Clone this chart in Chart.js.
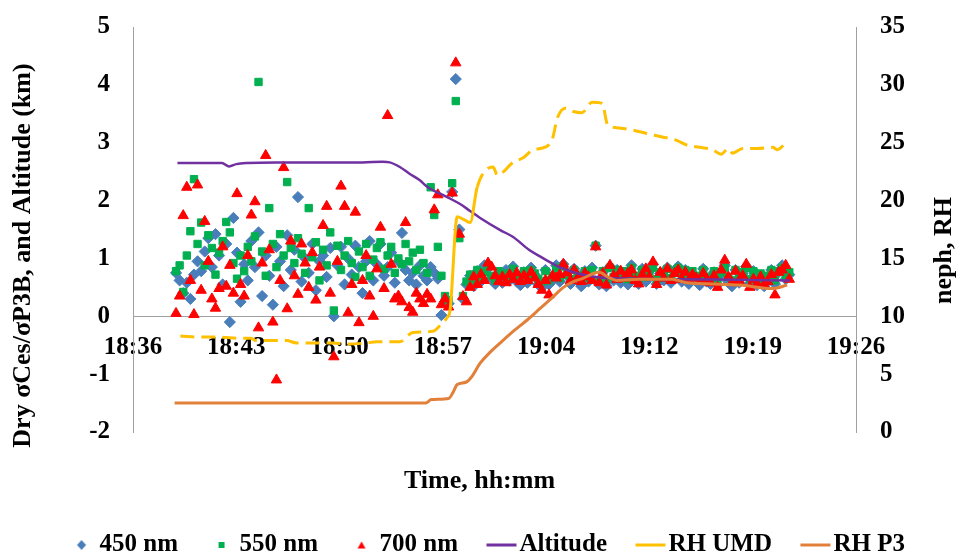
<!DOCTYPE html>
<html>
<head>
<meta charset="utf-8">
<script src="https://cdn.jsdelivr.net/npm/chart.js"></script>
<style>
  html, body { margin: 0; padding: 0; background: #ffffff; }
  #wrap { width: 959px; height: 559px; }
</style>
</head>
<body>
<div id="wrap"><canvas id="c" width="959" height="559"></canvas></div>
<script>
// Time axis: minutes after 18:36; major unit 0.005 day = 7.2 min
const xTickLabels = ['18:36', '18:43', '18:50', '18:57', '19:04', '19:12', '19:19', '19:26'];
const xTickStep = 7.2;

// Nephelometer ratio samples, 15 s apart starting 18:39:00
const sampleMinutes = Array.from({ length: 172 }, (_, i) => 3 + i * 0.25);

const ratio450 = [
  0.75, 0.62, 0.40, 0.58, 0.30, 0.72, 0.95, 0.78, 1.12, 1.35,
  0.85, 1.42, 1.05, 0.55, 1.25, -0.10, 1.70, 1.10, 0.25, 0.90,
  0.62, 1.30, 0.85, 1.45, 0.35, 1.05, 0.70, 0.20, 1.20, 0.95,
  0.52, 1.40, 0.80, 1.15, 2.06, 0.60, 1.00, 0.75, 1.25, 0.45,
  0.95, 1.05, 0.68, 1.18, 0.00, 0.88, 1.20, 0.55, 1.00, 0.72,
  1.22, 0.85, 0.40, 0.95, 1.30, 0.62, 0.90, 1.25, 0.70, 0.85,
  1.10, 0.58, 0.95, 1.44, 0.80, 0.62, 0.75, 0.55, 0.88, 0.70,
  0.62, 0.85, 0.75, 0.65, 0.02, 0.25, 0.22, 2.15, 4.10, 1.50,
  0.30, 0.55, 0.70, 0.52, 0.78, 0.60, 0.88, 0.83, 0.66, 0.56,
  0.74, 0.58, 0.80, 0.62, 0.86, 0.60, 0.54, 0.76, 0.58, 0.84,
  0.72, 0.55, 0.50, 0.80, 0.55, 0.62, 0.88, 0.60, 0.90, 0.70,
  0.56, 0.82, 0.64, 0.52, 0.78, 0.60, 0.84, 1.22, 0.55, 0.76,
  0.52, 0.86, 0.62, 0.80, 0.58, 0.74, 0.55, 0.88, 0.64, 0.56,
  0.82, 0.60, 0.78, 0.90, 0.56, 0.74, 0.62, 0.84, 0.58, 0.76,
  0.86, 0.60, 0.80, 0.56, 0.74, 0.62, 0.54, 0.82, 0.60, 0.56,
  0.76, 0.54, 0.72, 0.88, 0.60, 0.52, 0.80, 0.58, 0.74, 0.86,
  0.56, 0.78, 0.54, 0.70, 0.52, 0.66, 0.80, 0.56, 0.76, 0.88,
  0.64, 0.72
];

const ratio550 = [
  0.78, 0.88, 0.42, 1.05, 1.47, 2.37, 1.25, 1.62, 0.88, 1.40,
  1.18, 0.72, 1.10, 1.30, 1.63, 1.45, 0.92, 0.65, 1.05, 0.78,
  1.20, 0.95, 1.38, 4.05, 1.12, 0.70, 1.87, 1.25, 0.85, 1.42,
  1.05, 2.32, 1.18, 0.92, 1.35, 1.08, 0.75, 1.87, 1.02, 1.28,
  0.62, 1.15, 0.88, 1.45, 0.10, 1.22, 0.80, 1.05, 1.30, 0.92,
  0.68, 1.12, 0.85, 1.25, 0.70, 0.98, 1.18, 1.28, 0.82, 1.05,
  1.20, 0.75, 1.00, 0.90, 1.25, 0.95, 1.10, 0.80, 1.15, 0.92,
  0.75, 2.23, 1.75, 1.20, 0.70, 0.35, 0.28, 2.30, 3.72, 1.35,
  0.35, 0.60, 0.72, 0.62, 0.80, 0.66, 0.76, 0.88, 0.70, 0.62,
  0.78, 0.64, 0.74, 0.68, 0.82, 0.66, 0.62, 0.78, 0.64, 0.80,
  0.74, 0.64, 0.60, 0.78, 0.62, 0.70, 0.84, 0.66, 0.86, 0.72,
  0.64, 0.80, 0.70, 0.62, 0.78, 0.66, 0.80, 1.22, 0.62, 0.78,
  0.62, 0.84, 0.68, 0.80, 0.66, 0.78, 0.64, 0.84, 0.70, 0.64,
  0.80, 0.68, 0.78, 0.84, 0.64, 0.76, 0.68, 0.82, 0.66, 0.78,
  0.84, 0.68, 0.80, 0.66, 0.78, 0.70, 0.64, 0.80, 0.68, 0.64,
  0.78, 0.62, 0.76, 0.84, 0.68, 0.62, 0.80, 0.66, 0.76, 0.84,
  0.64, 0.78, 0.62, 0.74, 0.60, 0.70, 0.80, 0.62, 0.78, 0.84,
  0.70, 0.76
];

const ratio700 = [
  0.05, 0.35, 1.74, 2.23, 0.62, 0.03, 2.27, 0.45, 1.64, 0.95,
  0.30, 0.14, 0.48, 1.20, 0.52, 0.88, 0.40, 2.12, 0.55, 0.35,
  1.05, 1.75, 1.98, -0.20, 0.92, 2.78, 1.15, -0.10, -1.10, 0.62,
  2.57, 0.13, 1.30, 0.70, 0.38, 1.25, 0.92, 0.50, 1.10, 0.28,
  0.85, 1.57, 1.90, 0.40, -0.70, 0.95, 2.25, 1.90, 0.06, 0.55,
  1.80, -0.11, 0.62, 1.05, 0.35, 0.00, 0.82, 1.54, 0.48, 3.47,
  0.90, 0.30, 0.35, 0.25, 1.62, 0.15, 0.07, 0.40, 0.30, 0.22,
  0.38, 0.30, 1.84, 2.10, 0.20, 0.30, 0.16, 2.13, 4.38, 1.42,
  0.34, 0.25, 0.50, 0.68, 0.55, 0.72, 0.62, 0.92, 0.85, 0.70,
  0.60, 0.68, 0.58, 0.72, 0.64, 0.75, 0.60, 0.70, 0.62, 0.76,
  0.66, 0.55, 0.45, 0.62, 0.37, 0.70, 0.66, 0.72, 0.90, 0.75,
  0.62, 0.80, 0.66, 0.60, 0.74, 0.68, 0.62, 1.20, 0.58, 0.74,
  0.54, 0.88, 0.70, 0.64, 0.78, 0.66, 0.74, 0.80, 0.62, 0.56,
  0.72, 0.82, 0.68, 0.94, 0.55, 0.76, 0.66, 0.82, 0.62, 0.74,
  0.80, 0.64, 0.76, 0.62, 0.72, 0.66, 0.60, 0.74, 0.64, 0.58,
  0.70, 0.50, 0.80, 0.97, 0.68, 0.58, 0.78, 0.62, 0.70, 0.90,
  0.50, 0.64, 0.56, 0.68, 0.55, 0.60, 0.72, 0.37, 0.76, 0.80,
  0.88, 0.64
];

// Aircraft altitude, km (left axis)
const altMinutes = [3.1, 5.0, 6.2, 6.7, 7.2, 8.0, 10.0, 12.0, 14.0, 16.0, 17.4, 17.9, 18.6, 19.3, 20.0, 20.5,
  21.9, 22.8, 23.5, 24.2, 25.6, 26.5, 27.6, 28.4, 29.8, 31.0, 32.3, 33.3, 35.0, 38.0, 42.0, 45.8];
const altitudeKm = [2.65, 2.65, 2.65, 2.59, 2.63, 2.65, 2.66, 2.66, 2.66, 2.66, 2.67, 2.66, 2.58, 2.46, 2.35, 2.24,
  2.06, 1.94, 1.82, 1.70, 1.49, 1.37, 1.15, 1.03, 0.84, 0.74, 0.68, 0.66, 0.65, 0.64, 0.63, 0.62];

// Relative humidity, % (right axis)
const umdMinutes = [3.3, 4.7, 6.0, 7.5, 8.2, 8.6, 10.7, 11.4, 12.8, 13.9, 15.0, 16.3, 17.0, 18.6, 19.5, 20.9,
  21.4, 21.9, 22.1, 22.6, 23.0, 23.5, 24.0, 25.1, 25.4, 26.5, 27.2, 27.9, 28.4, 29.2, 29.6, 30.2, 30.7,
  31.3, 32.0, 32.7, 33.1, 33.7, 34.8, 35.8, 36.9, 37.9, 38.6, 39.5, 40.4, 41.0, 41.5, 41.8, 42.5, 43.5,
  44.6, 44.9, 45.6];
const rhUMD = [8.3, 8.2, 8.2, 8.1, 8.1, 7.9, 7.9, 7.7, 7.7, 7.7, 7.6, 7.7, 7.8, 7.8, 8.6, 8.7,
  9.2, 9.9, 10.5, 18.6, 18.4, 18.1, 21.2, 22.9, 22.2, 23.3, 23.7, 24.4, 24.5, 25.2, 27.2, 28.0, 27.7,
  27.6, 28.5, 28.4, 26.5, 26.3, 26.1, 25.8, 25.5, 25.2, 24.8, 24.6, 24.4, 24.0, 24.5, 24.1, 24.5, 24.5,
  24.6, 24.4, 25.1];

const p3Minutes = [2.9, 10.0, 16.0, 20.4, 20.8, 22.0, 22.3, 22.6, 23.2, 23.6, 24.2, 24.9, 25.6, 26.6, 27.5,
  28.4, 29.3, 30.0, 30.7, 31.4, 32.1, 32.5, 33.1, 33.7, 35.3, 37.6, 38.6, 40.4, 42.3, 44.6, 45.6];
const rhP3 = [2.5, 2.5, 2.5, 2.5, 2.8, 2.9, 3.4, 4.1, 4.3, 4.75, 5.95, 6.9, 7.7, 8.8, 9.7,
  10.7, 11.7, 12.5, 13.0, 13.3, 13.7, 13.8, 13.4, 13.1, 13.2, 13.2, 12.9, 12.8, 12.7, 12.4, 12.7];

const leftTitle = 'Dry \u03c3Ces/\u03c3P3B, and Altitude (km)';
const rightTitle = 'neph, RH';
const bottomTitle = 'Time, hh:mm';

const serif = '"Liberation Serif", "Times New Roman", serif';
Chart.defaults.font.family = serif;
Chart.defaults.font.weight = 'bold';
Chart.defaults.color = '#000000';

const toPoints = (xs, ys) => xs.map((x, i) => ({ x: x, y: ys[i] }));

// Small legend glyphs, offset inside the canvas so each sits just before its label
function legendGlyph(kind, color) {
  const c = document.createElement('canvas');
  const g = c.getContext('2d');
  if (kind === 'line') {
    c.width = 60; c.height = 4;
    g.strokeStyle = color; g.lineWidth = 3;
    g.beginPath(); g.moveTo(26, 2); g.lineTo(56, 2); g.stroke();
    return c;
  }
  c.width = 40; c.height = 12;
  g.fillStyle = color;
  g.beginPath();
  if (kind === 'diamond') {
    g.moveTo(31, 1); g.lineTo(35.5, 6); g.lineTo(31, 11); g.lineTo(26.5, 6);
  } else if (kind === 'square') {
    g.rect(28, 3, 6, 6);
  } else {
    g.moveTo(31, 2.5); g.lineTo(35, 9.5); g.lineTo(27, 9.5);
  }
  g.closePath(); g.fill();
  return c;
}

const colors = ['#4A7EBB', '#00B050', '#FF0000', '#7030A0', '#FFC000', '#E2803A'];
const legendGlyphs = [
  legendGlyph('diamond', colors[0]),
  legendGlyph('square', colors[1]),
  legendGlyph('triangle', colors[2]),
  legendGlyph('line', colors[3]),
  legendGlyph('line', colors[4]),
  legendGlyph('line', colors[5])
];

// Rotated titles for the two value axes
const axisTitles = {
  id: 'axisTitles',
  afterDraw(chart) {
    const { ctx, chartArea: a } = chart;
    const midY = (a.top + a.bottom) / 2;
    ctx.save();
    ctx.font = 'bold 26px ' + serif;
    ctx.fillStyle = '#000000';
    ctx.textAlign = 'center';
    ctx.textBaseline = 'middle';
    [[a.left - 110, midY + 26, leftTitle], [a.right + 88, midY + 21, rightTitle]].forEach(([x, y, t]) => {
      ctx.save();
      ctx.translate(x, y);
      ctx.rotate(-Math.PI / 2);
      ctx.fillText(t, 0, 0);
      ctx.restore();
    });
    ctx.restore();
  }
};

const axisGray = '#A0A0A0';
const tickFont = { size: 25, weight: 'bold', family: serif };

// Value axes keep a fixed width and do not push the plot area in from top or bottom
const fixWidth = w => s => { s.width = w; s.paddingTop = 0; s.paddingBottom = 0; };

new Chart(document.getElementById('c'), {
  type: 'scatter',
  data: {
    datasets: [
      { label: '450 nm', data: toPoints(sampleMinutes, ratio450), yAxisID: 'y', order: 5,
        pointStyle: 'rectRot', pointRadius: 5.6, borderWidth: 1,
        backgroundColor: colors[0], borderColor: colors[0] },
      { label: '550 nm', data: toPoints(sampleMinutes, ratio550), yAxisID: 'y', order: 4,
        pointStyle: 'rect', pointRadius: 5.2, borderWidth: 1,
        backgroundColor: colors[1], borderColor: colors[1] },
      { label: '700 nm', data: toPoints(sampleMinutes, ratio700), yAxisID: 'y', order: 3,
        pointStyle: 'triangle', pointRadius: 6, borderWidth: 1,
        backgroundColor: colors[2], borderColor: colors[2] },
      { type: 'line', label: 'Altitude', data: toPoints(altMinutes, altitudeKm), yAxisID: 'y', order: 2,
        borderColor: colors[3], backgroundColor: colors[3], borderWidth: 2.5, pointRadius: 0,
        cubicInterpolationMode: 'monotone', fill: false },
      { type: 'line', label: 'RH UMD', data: toPoints(umdMinutes, rhUMD), yAxisID: 'y2', order: 1,
        borderColor: colors[4], backgroundColor: colors[4], borderWidth: 3, pointRadius: 0,
        cubicInterpolationMode: 'monotone', fill: false,
        segment: {
          borderDash: s => (s.p0.parsed.x >= 21.9 && s.p1.parsed.x <= 24.05) ? [] : [14, 7]
        } },
      { type: 'line', label: 'RH P3', data: toPoints(p3Minutes, rhP3), yAxisID: 'y2', order: 0,
        borderColor: colors[5], backgroundColor: colors[5], borderWidth: 3, pointRadius: 0,
        cubicInterpolationMode: 'monotone', fill: false }
    ]
  },
  options: {
    responsive: false,
    animation: false,
    devicePixelRatio: 1,
    events: [],
    layout: { padding: { top: 27, bottom: -8.5, left: 0, right: 0 } },
    plugins: {
      tooltip: { enabled: false },
      title: {
        display: true,
        text: bottomTitle,
        position: 'bottom',
        weight: 500,
        fullSize: true,
        color: '#000000',
        font: { size: 26, weight: 'bold', family: serif },
        padding: { top: 33.4, bottom: 19.9 }
      },
      legend: {
        display: true,
        position: 'bottom',
        fullSize: true,
        labels: {
          usePointStyle: true,
          pointStyleWidth: 33,
          padding: 16,
          color: '#000000',
          font: { size: 25, weight: 'bold', family: serif },
          generateLabels(chart) {
            const items = Chart.defaults.plugins.legend.labels.generateLabels(chart);
            items.sort((p, q) => p.datasetIndex - q.datasetIndex);
            items.forEach(it => { it.pointStyle = legendGlyphs[it.datasetIndex]; });
            return items;
          }
        }
      }
    },
    scales: {
      x: {
        type: 'linear',
        min: 0,
        max: xTickStep * (xTickLabels.length - 1),
        position: { y: 0 },
        grid: { display: false, drawTicks: false },
        border: { display: true, color: axisGray, width: 1 },
        afterBuildTicks: s => { s.ticks = xTickLabels.map((_, i) => ({ value: i * xTickStep })); },
        ticks: {
          autoSkip: false,
          maxRotation: 0,
          padding: 16,
          font: tickFont,
          color: '#000000',
          callback: (v, i) => xTickLabels[i]
        }
      },
      y: {
        type: 'linear',
        position: 'left',
        min: -2,
        max: 5,
        grid: { display: false, drawTicks: false },
        border: { display: true, color: axisGray, width: 1 },
        ticks: { stepSize: 1, padding: 23, font: tickFont, color: '#000000' },
        afterFit: fixWidth(133)
      },
      y2: {
        type: 'linear',
        position: 'right',
        min: 0,
        max: 35,
        grid: { display: false, drawTicks: false },
        border: { display: true, color: axisGray, width: 1 },
        ticks: { stepSize: 5, padding: 24, font: tickFont, color: '#000000' },
        afterFit: fixWidth(103)
      }
    }
  },
  plugins: [axisTitles]
});
</script>
</body>
</html>
